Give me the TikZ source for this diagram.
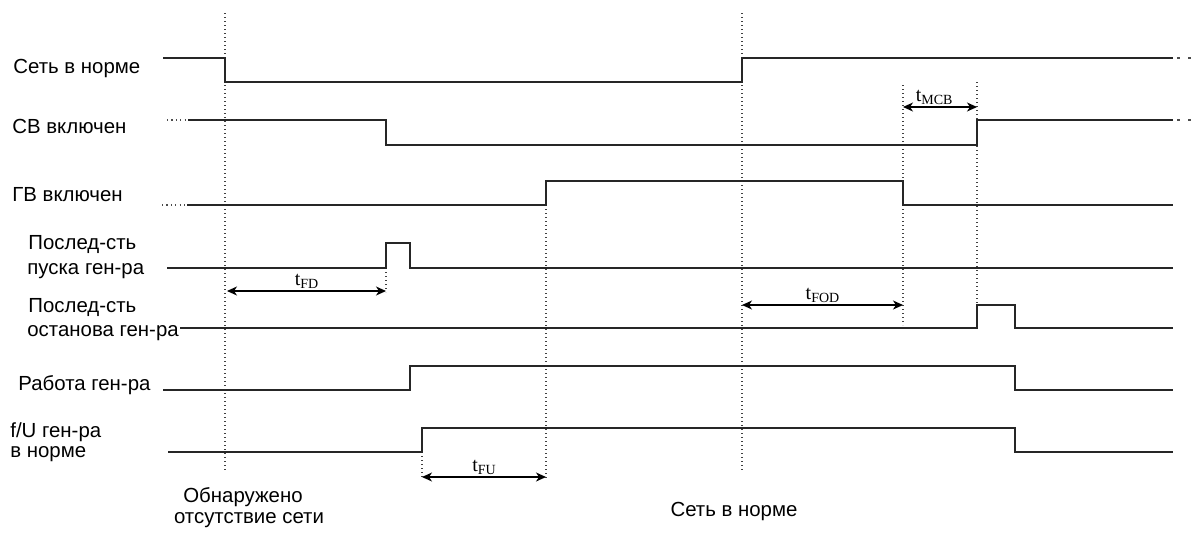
\documentclass[tikz,border=0pt]{standalone}
\usepackage{fontspec}
\setmainfont{Liberation Sans}
\newfontfamily\tserif{Liberation Serif}
\usepackage{tikz}
\usetikzlibrary{arrows.meta, positioning, calc}
\tikzset{
  %% Signal trace
  wave/.style={draw=black!85, line width=1pt, line join=miter},
  %% Dotted lead-in / lead-out of a trace
  wdots/.style={draw=black!70, line width=0.6pt,
                dash pattern=on 0.6pt off 1.6pt},
  %% Dotted time guide
  guide/.style={draw=black!75, line width=0.55pt,
                dash pattern=on 0.6pt off 1.4pt},
  %% Dimension arrow
  dim/.style={{Stealth[length=5pt,width=4.5pt,inset=1.5pt]}-{Stealth[length=5pt,width=4.5pt,inset=1.5pt]},
              draw=black, line width=0.6pt},
  %% Signal name
  lbl/.style={font=\fontsize{10.2}{12}\selectfont, inner sep=0pt, anchor=west},
  %% Time label
  tlbl/.style={font=\tserif\fontsize{10}{12}\selectfont, inner sep=1pt, anchor=south},
}
\newcommand{\tsub}[1]{t\raisebox{-0.35ex}{\fontsize{7}{8}\selectfont #1}}

\begin{document}
\begin{tikzpicture}[x=0.5pt, y=-0.5pt]
  \useasboundingbox (0,0) rectangle (1197,536);

  %% ---- Signal names (left) ----
  \node[lbl] (n1)  at (13,68)  {Сеть в норме};
  \node[lbl] (n2)  at (12,126) {СВ включен};
  \node[lbl] (n3)  at (12,195) {ГВ включен};
  \node[lbl] (n4a) at (28,245) {Послед-сть};
  \node[lbl] (n4b) at (27,271) {пуска ген-ра};
  \node[lbl] (n5a) at (28,308) {Послед-сть};
  \node[lbl] (n5b) at (27,333) {останова ген-ра};
  \node[lbl] (n6)  at (18,385) {Работа ген-ра};
  \node[lbl] (n7a) at (10,432) {f/U ген-ра};
  \node[lbl] (n7b) at (10,454) {в норме};

  %% ---- Time guides ----
  \draw[guide] (225,13)  -- (225,472);
  \draw[guide] (742,13)  -- (742,472);
  \draw[guide] (546,205) -- (546,478);
  \draw[guide] (903,85)  -- (903,325);
  \draw[guide] (977,82)  -- (977,305);
  \draw[guide] (386,268) -- (386,292);
  \draw[guide] (422,452) -- (422,478);

  %% ---- Traces ----
  \draw[wave] (163,58) -- (225,58) -- (225,82) -- (742,82)
              -- (742,58) -- (1173,58);
  \draw[wave] (188,120) -- (386,120) -- (386,145) -- (977,145)
              -- (977,120) -- (1173,120);
  \draw[wave] (187,205) -- (546,205) -- (546,181) -- (903,181)
              -- (903,205) -- (1173,205);
  \draw[wave] (167,268) -- (386,268) -- (386,243) -- (410,243)
              -- (410,268) -- (1173,268);
  \draw[wave] (180,328) -- (977,328) -- (977,305) -- (1015,305)
              -- (1015,328) -- (1173,328);
  \draw[wave] (163,390) -- (410,390) -- (410,366) -- (1015,366)
              -- (1015,390) -- (1173,390);
  \draw[wave] (168,452) -- (422,452) -- (422,428) -- (1015,428)
              -- (1015,452) -- (1173,452);

  %% dotted ends
  \draw[wdots] (167,120) -- (186,120);
  \draw[wdots] (162,205) -- (185,205);
  \foreach \y in {58,120}
    \draw[wdots, dash pattern=on 1.5pt off 4pt] (1177,\y) -- (1196,\y);

  %% ---- Intervals ----
  \coordinate (fdA)  at (227,291);
  \coordinate (fdB)  at (386,291);
  \coordinate (fodA) at (742,305);
  \coordinate (fodB) at (903,305);
  \coordinate (mcbA) at (903,107);
  \coordinate (mcbB) at (977,107);
  \coordinate (fuA)  at (422,477);
  \coordinate (fuB)  at (546,477);

  \draw[dim] (fdA)  -- node[tlbl] (tfd)  {\tsub{FD}}  (fdB);
  \draw[dim] (fodA) -- node[tlbl] (tfod) {\tsub{FOD}} (fodB);
  \draw[dim] (mcbA) -- node[tlbl, pos=0.42] (tmcb) {\tsub{MCB}} (mcbB);
  \draw[dim] (fuA)  -- node[tlbl] (tfu)  {\tsub{FU}}  (fuB);

  %% ---- Event notes (bottom) ----
  \node[lbl, anchor=center] (ev1a) at (243,497) {Обнаружено};
  \node[lbl, anchor=center] (ev1b) at (249,520) {отсутствие сети};
  \node[lbl, anchor=center] (ev2)  at (734,511) {Сеть в норме};

\end{tikzpicture}
\end{document}
